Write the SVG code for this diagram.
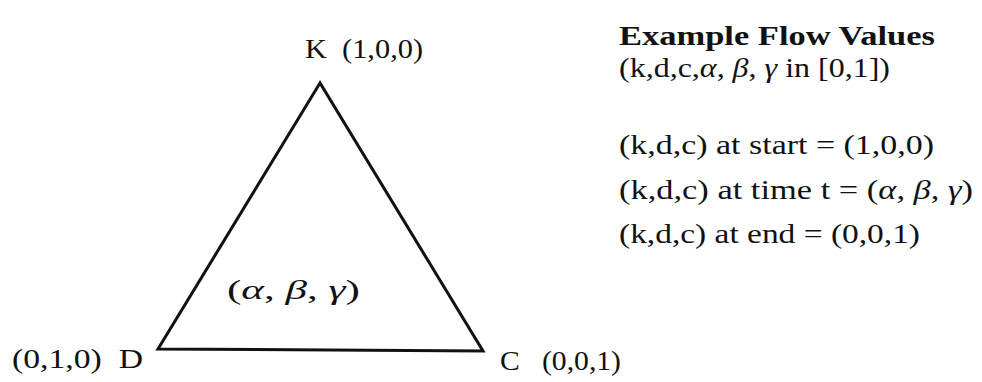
<svg xmlns="http://www.w3.org/2000/svg" width="982" height="382" viewBox="0 0 982 382">
<style>
text{font-family:"Liberation Serif","DejaVu Serif",serif;font-size:27px;fill:#111}
.b{font-weight:bold}
.g{font-style:italic}
.tri{fill:none;stroke:#111;stroke-width:3;stroke-linejoin:miter}
</style>
<rect width="982" height="382" fill="#fff"/>
<g id="triangle"><polygon class="tri" points="320,83 158,349 483,351"/></g>
<g id="node-K"><text x="305" y="58" xml:space="preserve" textLength="118" lengthAdjust="spacingAndGlyphs">K  (1,0,0)</text></g>
<g id="node-D"><text x="12" y="368" xml:space="preserve" textLength="131" lengthAdjust="spacingAndGlyphs">(0,1,0)  D</text></g>
<g id="node-C"><text x="500" y="370" xml:space="preserve" textLength="121" lengthAdjust="spacingAndGlyphs">C   (0,0,1)</text></g>
<g id="node-center"><text x="227" y="299" textLength="133" lengthAdjust="spacingAndGlyphs">(<tspan class="g">α</tspan>, <tspan class="g">β</tspan>, <tspan class="g">γ</tspan>)</text></g>
<g id="legend">
<text class="b" x="619" y="45" textLength="316" lengthAdjust="spacingAndGlyphs">Example Flow Values</text>
<text x="619" y="77" textLength="271" lengthAdjust="spacingAndGlyphs">(k,d,c,<tspan class="g">α</tspan>, <tspan class="g">β</tspan>, <tspan class="g">γ</tspan> in [0,1])</text>
<text x="619" y="154" textLength="315" lengthAdjust="spacingAndGlyphs">(k,d,c) at start = (1,0,0)</text>
<text x="619" y="199" textLength="354" lengthAdjust="spacingAndGlyphs">(k,d,c) at time t = (<tspan class="g">α</tspan>, <tspan class="g">β</tspan>, <tspan class="g">γ</tspan>)</text>
<text x="619" y="243" textLength="301" lengthAdjust="spacingAndGlyphs">(k,d,c) at end = (0,0,1)</text>
</g>
</svg>
